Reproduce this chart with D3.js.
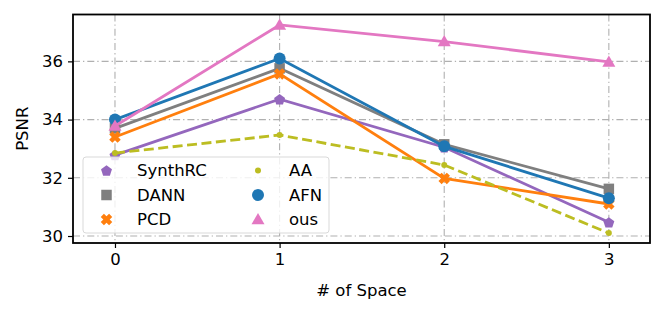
<!DOCTYPE html>
<html>
<head>
<meta charset="utf-8">
<title>PSNR vs Space</title>
<script src="https://d3js.org/d3.v7.min.js"></script>
<style>
body { margin: 0; background: #fff; }
text { font-family: "DejaVu Sans", sans-serif; fill: #000; }
.grid line { stroke: #b0b0b0; stroke-width: 1.1; stroke-dasharray: 7,3,1.3,3; }
</style>
</head>
<body>
<svg width="665" height="313"></svg>
<script>

// data
var spaces = [0, 1, 2, 3];
var xTicks = [0, 1, 2, 3];
var yTicks = [30, 32, 34, 36];
var methods = ["SynthRC", "DANN", "PCD", "AA", "AFN", "ous"];
var synthrc = [32.78, 34.7, 33.05, 30.47];
var dann    = [33.7, 35.76, 33.15, 31.62];
var pcd     = [33.4, 35.57, 31.98, 31.1];
var aa      = [32.85, 33.47, 32.44, 30.1];
var afn     = [34.0, 36.1, 33.08, 31.3];
var ous     = [33.78, 37.25, 36.68, 35.98];

var colors = ["#9467bd", "#7f7f7f", "#ff7f0e", "#bcbd22", "#1f77b4", "#e377c2"];

var series = [
  {name: methods[0], values: synthrc, color: colors[0], marker: "pentagon", size: 11.5},
  {name: methods[1], values: dann, color: colors[1], marker: "square", size: 10.5},
  {name: methods[2], values: pcd, color: colors[2], marker: "x", size: 11.5},
  {name: methods[3], values: aa, color: colors[3], marker: "dot", size: 6, dash: "10,4.5"},
  {name: methods[4], values: afn, color: colors[4], marker: "circle", size: 12},
  {name: methods[5], values: ous, color: colors[5], marker: "triangle", size: 13}
];

var svg = d3.select("svg"),
    x0 = 73, x1 = 650, y0 = 14.5, y1 = 243;

var x = d3.scaleLinear().domain([-0.255, 3.25]).range([x0, x1]);
var y = d3.scaleLinear().domain([29.76, 37.61]).range([y1, y0]);

// marker path centred at 0,0 with overall size s (px)
function markerPath(type, s) {
  var r = s / 2;
  if (type == "circle" || type == "dot") {
    return d3.symbol().type(d3.symbolCircle).size(Math.PI * r * r)();
  }
  if (type == "square") {
    return "M" + (-r) + "," + (-r) + "H" + r + "V" + r + "H" + (-r) + "Z";
  }
  if (type == "triangle") {
    return "M0," + (-r * 1.0) + "L" + r + "," + (r * 0.72) + "L" + (-r) + "," + (r * 0.72) + "Z";
  }
  if (type == "pentagon") {
    var pts = d3.range(5).map(function(i) {
      var a = -Math.PI / 2 + i * 2 * Math.PI / 5;
      return [r * Math.cos(a), r * Math.sin(a) + r * 0.1];
    });
    return "M" + pts.join("L") + "Z";
  }
  if (type == "x") {
    // filled, chunky x like matplotlib's "X"
    var a = r, b = r * 0.55;
    var p = [[-a + b, -a], [0, -b], [a - b, -a], [a, -a + b], [b, 0], [a, a - b],
             [a - b, a], [0, b], [-a + b, a], [-a, a - b], [-b, 0], [-a, -a + b]];
    return "M" + p.join("L") + "Z";
  }
}

// grid
var grid = svg.append("g").attr("class", "grid");
grid.selectAll(".gx").data(xTicks).enter().append("line")
    .attr("x1", function(d) { return x(d); }).attr("x2", function(d) { return x(d); })
    .attr("y1", y0).attr("y2", y1);
grid.selectAll(".gy").data(yTicks).enter().append("line")
    .attr("x1", x0).attr("x2", x1)
    .attr("y1", function(d) { return y(d); }).attr("y2", function(d) { return y(d); });

// lines + markers
var line = d3.line()
    .x(function(d, i) { return x(spaces[i]); })
    .y(function(d) { return y(d); });

var plot = svg.append("g");
series.forEach(function(s) {
  var g = plot.append("g");
  g.append("path")
      .attr("d", line(s.values))
      .attr("fill", "none")
      .attr("stroke", s.color)
      .attr("stroke-width", 2.8)
      .attr("stroke-dasharray", s.dash || null);
  g.selectAll("path.m").data(s.values).enter().append("path")
      .attr("class", "m")
      .attr("transform", function(d, i) { return "translate(" + x(spaces[i]) + "," + y(d) + ")"; })
      .attr("d", markerPath(s.marker, s.size))
      .attr("fill", s.color);
});

// axes
var xAxis = svg.append("g").attr("transform", "translate(0," + y1 + ")")
    .call(d3.axisBottom(x).tickValues(xTicks).tickSize(5).tickPadding(5).tickFormat(d3.format("d")));
var yAxis = svg.append("g").attr("transform", "translate(" + x0 + ",0)")
    .call(d3.axisLeft(y).tickValues(yTicks).tickSize(5).tickPadding(5).tickFormat(d3.format("d")));
[xAxis, yAxis].forEach(function(a) {
  a.select(".domain").remove();
  a.selectAll(".tick line").attr("stroke", "#000").attr("stroke-width", 1.2);
  a.selectAll(".tick text").attr("font-size", 16.5).attr("font-family", "DejaVu Sans, sans-serif");
});

svg.append("rect")
    .attr("x", x0).attr("y", y0)
    .attr("width", x1 - x0).attr("height", y1 - y0)
    .attr("fill", "none").attr("stroke", "#000").attr("stroke-width", 1.8);

svg.append("text")
    .attr("x", (x0 + x1) / 2).attr("y", 296)
    .attr("text-anchor", "middle").attr("font-size", 16.5)
    .text("# of Space");

svg.append("text")
    .attr("transform", "translate(28," + (y0 + y1) / 2 + ") rotate(-90)")
    .attr("text-anchor", "middle").attr("font-size", 16.5)
    .text("PSNR");

// legend (two columns, markers only)
var legend = svg.append("g");
legend.append("rect")
    .attr("x", 83).attr("y", 157).attr("width", 246).attr("height", 76)
    .attr("rx", 3)
    .attr("fill", "#fff").attr("fill-opacity", 0.8)
    .attr("stroke", "#d9d9d9").attr("stroke-width", 1);

var colX = [106.5, 258], textX = [137, 289], rowY = [170.5, 195, 219.5];
series.forEach(function(s, i) {
  var c = Math.floor(i / 3), r = i % 3;
  legend.append("path")
      .attr("transform", "translate(" + colX[c] + "," + rowY[r] + ")")
      .attr("d", markerPath(s.marker, s.size))
      .attr("fill", s.color);
  legend.append("text")
      .attr("x", textX[c]).attr("y", rowY[r]).attr("dy", "0.36em")
      .attr("font-size", 16.5)
      .text(s.name);
});

</script>
</body>
</html>
